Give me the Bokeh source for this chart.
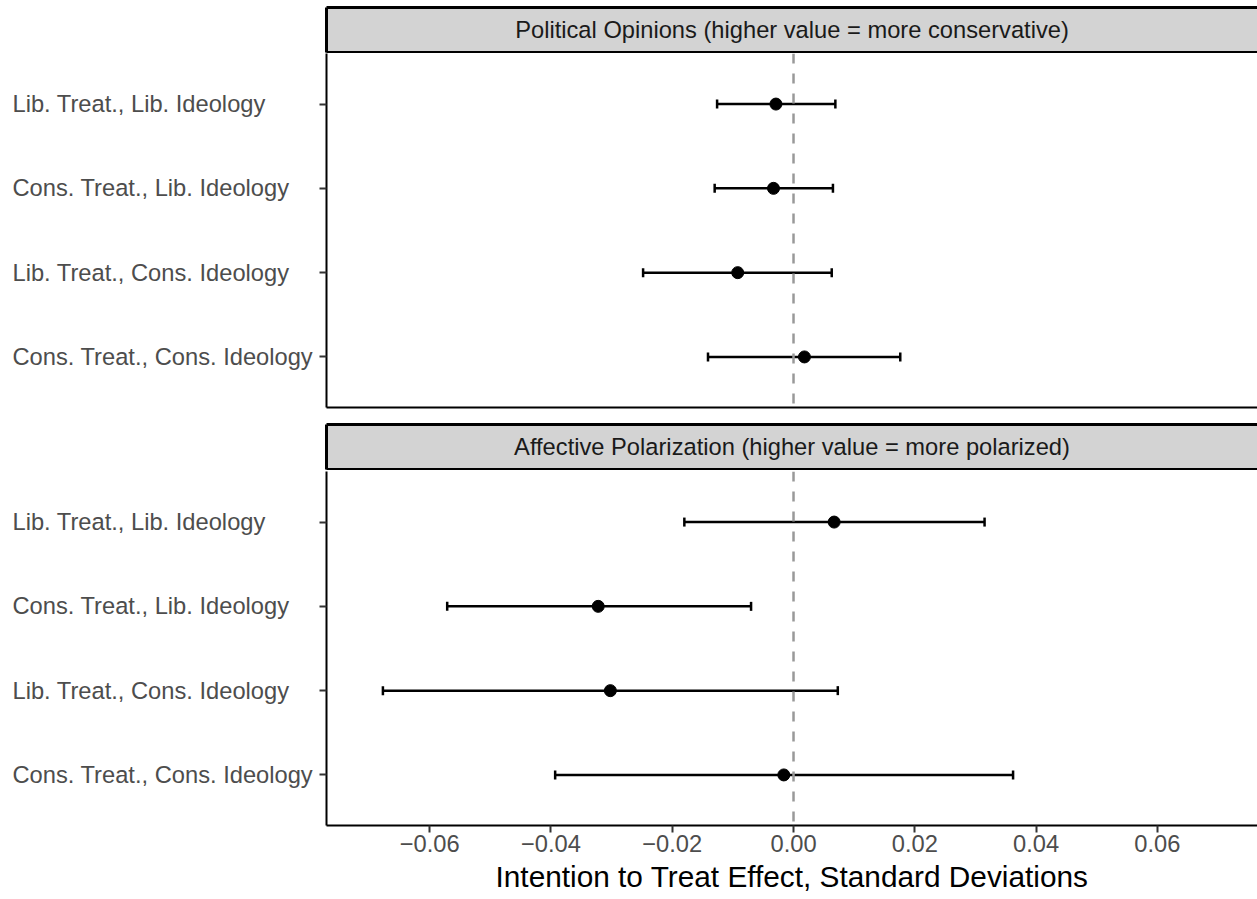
from bokeh.plotting import figure
from bokeh.models import (ColumnDataSource, Range1d, LinearAxis, FixedTicker, Whisker,
                          TeeHead, Span, Label, CustomJSTickFormatter)
from bokeh.core.properties import value
from bokeh.layouts import column, row
from bokeh.embed import file_html
from bokeh.resources import INLINE

# ---- data ----
categories = ["Lib. Treat., Lib. Ideology", "Cons. Treat., Lib. Ideology",
              "Lib. Treat., Cons. Ideology", "Cons. Treat., Cons. Ideology"]
panel_titles = ["Political Opinions (higher value = more conservative)",
                "Affective Polarization (higher value = more polarized)"]
opinion_est = [-0.0029, -0.0033, -0.0092, 0.0018]
opinion_lo = [-0.0126, -0.0130, -0.0248, -0.0141]
opinion_hi = [0.0069, 0.0065, 0.0063, 0.0176]
polar_est = [0.0067, -0.0322, -0.0302, -0.0016]
polar_lo = [-0.0180, -0.0571, -0.0677, -0.0393]
polar_hi = [0.0315, -0.0070, 0.0073, 0.0362]
x_ticks = [-0.06, -0.04, -0.02, 0.0, 0.02, 0.04, 0.06]
x_title = "Intention to Treat Effect, Standard Deviations"

FONT = "Liberation Sans"
FS = "23.7px"
LEFT = 326
LABW = 318
FW = 931
XR = (-0.077, 0.0765)


def empty_axis(width, color="black"):
    ax = LinearAxis(ticker=FixedTicker(ticks=[]), axis_line_width=width, axis_line_color=color,
                    major_tick_out=0, major_tick_in=0, minor_tick_out=0, minor_tick_in=0,
                    major_label_standoff=0,
                    formatter=CustomJSTickFormatter(code="return ''"))
    return ax


def strip(title, top, bottom):
    s = figure(frame_width=FW, frame_height=45, x_range=Range1d(0, 1), y_range=Range1d(0, 1),
               x_axis_location=None, y_axis_location=None, toolbar_location=None,
               output_backend="svg", background_fill_color="#D3D3D3", border_fill_color="white",
               outline_line_color=None, min_border_left=LEFT, min_border_right=0,
               min_border_top=top, min_border_bottom=bottom)
    s.xgrid.visible = False
    s.ygrid.visible = False
    s.add_layout(empty_axis(3), "left")
    s.add_layout(empty_axis(3), "above")
    s.add_layout(empty_axis(3), "below")
    s.add_layout(Label(x=0.5, y=0.5, text=title, text_align="center", text_baseline="middle",
                       text_font=FONT, text_font_size=FS, text_color="#1A1A1A"))
    return s


def panel(est, lo, hi, top, bottom, with_x_axis):
    ypos = [i + 1 for i in range(len(categories))]
    src = ColumnDataSource(dict(y=ypos, est=est, lo=lo, hi=hi, label=categories))
    yr = Range1d(len(categories) + 0.6, 0.4)
    p = figure(frame_width=FW, frame_height=354, x_range=Range1d(*XR), y_range=yr,
               x_axis_location=None, y_axis_location=None, toolbar_location=None,
               output_backend="svg", background_fill_color="white", border_fill_color="white",
               outline_line_color=None, min_border_left=LEFT - LABW, min_border_right=0,
               min_border_top=top, min_border_bottom=bottom)
    p.xgrid.visible = False
    p.ygrid.visible = False

    yax = LinearAxis(ticker=FixedTicker(ticks=ypos), axis_line_width=2, axis_line_color="black",
                     major_tick_out=7, major_tick_in=0, major_tick_line_width=2,
                     major_tick_line_color="#333333", minor_tick_out=0, minor_tick_in=0,
                     major_label_standoff=0,
                     formatter=CustomJSTickFormatter(code="return ''"))
    p.add_layout(yax, "left")

    if with_x_axis:
        xax = LinearAxis(ticker=FixedTicker(ticks=x_ticks), axis_line_width=2, axis_line_color="black",
                         major_tick_out=7, major_tick_in=0, major_tick_line_width=2,
                         major_tick_line_color="#333333", minor_tick_out=0, minor_tick_in=0,
                         major_label_standoff=2, major_label_text_font=FONT,
                         major_label_text_font_size=FS, major_label_text_color="#4D4D4D",
                         axis_label=x_title, axis_label_text_font=FONT,
                         axis_label_text_font_size="29.8px", axis_label_text_font_style="normal",
                         axis_label_text_color="black", axis_label_standoff=5,
                         formatter=CustomJSTickFormatter(
                             code="return (tick < -1e-9 ? '\u2212' : '') + Math.abs(tick).toFixed(2)"))
        p.add_layout(xax, "below")
    else:
        p.add_layout(empty_axis(2), "below")

    whisk = Whisker(source=src, base="y", lower="lo", upper="hi", dimension="width",
                    line_width=2.5, line_color="black",
                    lower_head=TeeHead(size=9, line_width=2.5, line_color="black"),
                    upper_head=TeeHead(size=9, line_width=2.5, line_color="black"))
    p.add_layout(whisk)
    p.add_layout(Span(location=0, dimension="height", line_color="#999999",
                      line_width=2.5, line_dash="10 10"))
    p.scatter("est", "y", source=src, size=12, color="black")

    # category labels, left-aligned, in a companion figure sharing the y range
    lab = figure(frame_width=LABW, frame_height=354, x_range=Range1d(0, LABW), y_range=yr,
                 x_axis_location=None, y_axis_location=None, toolbar_location=None,
                 output_backend="svg", background_fill_color="white", border_fill_color="white",
                 outline_line_color=None, min_border_left=0, min_border_right=0,
                 min_border_top=top, min_border_bottom=0)
    lab.xgrid.visible = False
    lab.ygrid.visible = False
    lab.text(x=12, y="y", text="label", source=src, text_align="left", text_baseline="middle",
             text_font=value(FONT), text_font_size=FS, text_color="#4D4D4D")
    return row(lab, p, spacing=0)


s1 = strip(panel_titles[0], 7, 1)
p1 = panel(opinion_est, opinion_lo, opinion_hi, 0, 14, False)
s2 = strip(panel_titles[1], 3, 1)
p2 = panel(polar_est, polar_lo, polar_hi, 1, 0, True)

layout = column(s1, p1, s2, p2, spacing=0)
open("out.html", "w").write(file_html(layout, INLINE))
